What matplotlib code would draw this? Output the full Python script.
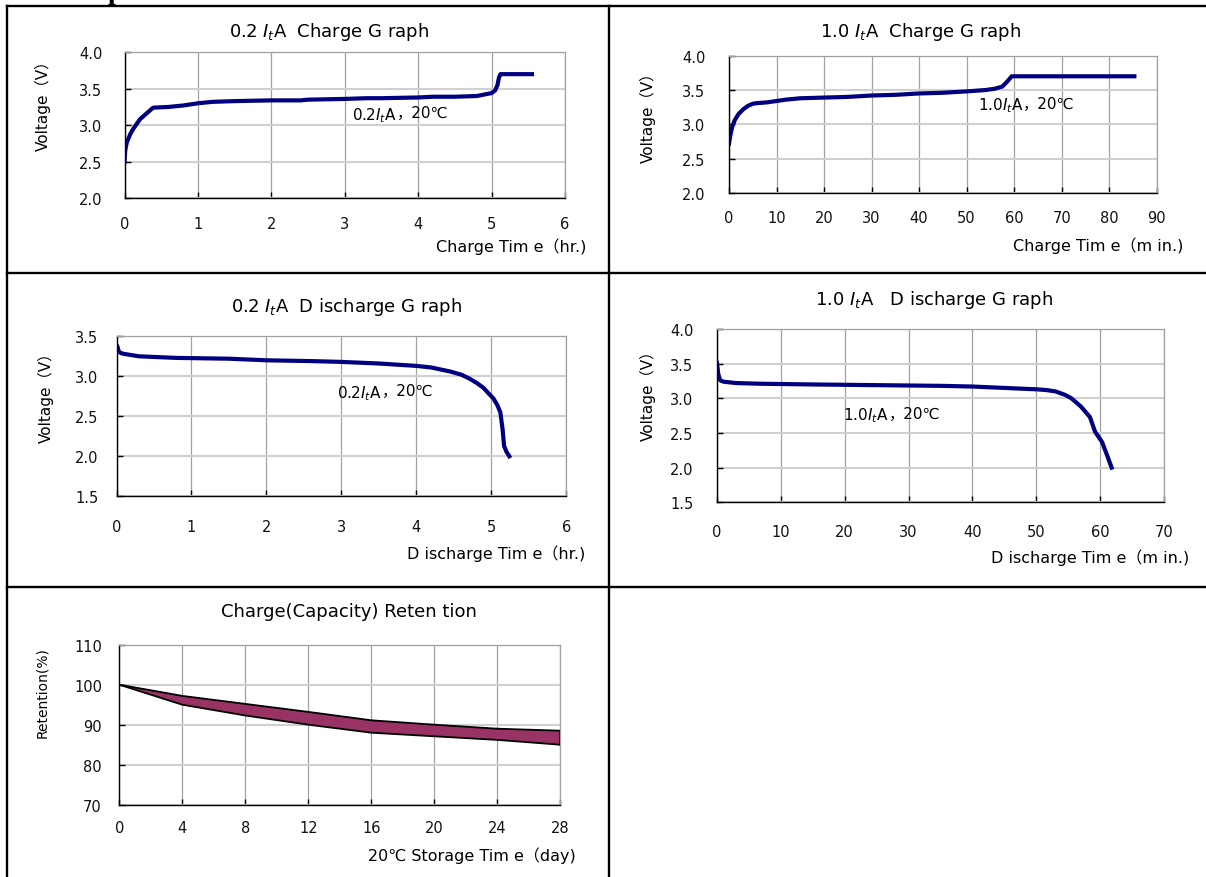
import matplotlib
matplotlib.use("Agg")
import matplotlib.pyplot as plt
from matplotlib.lines import Line2D
import numpy as np

plt.rcParams['font.family'] = ['DejaVu Sans', 'Noto Sans CJK JP']
plt.rcParams['mathtext.fontset'] = 'dejavusans'

# ---------------- data ----------------
ch02_t = [0, 0.01, 0.03, 0.08, 0.12, 0.21, 0.30, 0.39, 0.6, 0.8, 1.0, 1.2, 1.5, 2.0, 2.4,
          2.5, 3.0, 3.3, 3.5, 4.0, 4.2, 4.5, 4.8, 4.9, 5.0, 5.05, 5.08, 5.1, 5.12, 5.55]
ch02_v = [2.5, 2.65, 2.76, 2.88, 2.95, 3.08, 3.16, 3.24, 3.25, 3.27, 3.30, 3.32, 3.33, 3.34, 3.34,
          3.35, 3.36, 3.37, 3.37, 3.38, 3.39, 3.39, 3.40, 3.42, 3.44, 3.48, 3.55, 3.65, 3.70, 3.70]

ch10_t = [0, 0.3, 0.7, 1.2, 2, 3, 4, 5, 6, 8, 10, 12, 15, 20, 25, 30, 35, 40, 45, 50,
          54, 56, 57.5, 58.5, 59.5, 85.3]
ch10_v = [2.72, 2.85, 2.97, 3.06, 3.15, 3.22, 3.27, 3.30, 3.31, 3.32, 3.34, 3.36, 3.38, 3.39,
          3.40, 3.42, 3.43, 3.45, 3.46, 3.48, 3.50, 3.52, 3.55, 3.62, 3.70, 3.70]

dis02_t = [0, 0.01, 0.03, 0.06, 0.1, 0.3, 0.8, 1.5, 2.0, 2.6, 3.0, 3.5, 4.0, 4.2, 4.45, 4.6,
           4.71, 4.8, 4.89, 4.97, 5.03, 5.08, 5.12, 5.15, 5.17, 5.2, 5.24]
dis02_v = [3.38, 3.38, 3.31, 3.29, 3.28, 3.25, 3.23, 3.22, 3.20, 3.19, 3.18, 3.16, 3.13, 3.11,
           3.06, 3.02, 2.97, 2.92, 2.86, 2.78, 2.72, 2.64, 2.55, 2.34, 2.13, 2.06, 2.0]

dis10_t = [0, 0.2, 0.5, 1, 3, 7, 15, 25, 35, 40, 45, 50, 51.5, 53, 54.5, 55.5, 57, 58.4,
           59.2, 60.3, 61, 61.8]
dis10_v = [3.51, 3.35, 3.26, 3.24, 3.22, 3.21, 3.20, 3.19, 3.18, 3.17, 3.15, 3.13, 3.12, 3.10,
           3.05, 3.0, 2.88, 2.73, 2.52, 2.37, 2.2, 2.0]

ret_days = [0, 4, 8, 12, 16, 20, 24, 28]
ret_upper = [100, 97.2, 95.2, 93.2, 91.1, 90.0, 89.0, 88.5]
ret_lower = [100, 95.0, 92.3, 90.0, 88.0, 87.1, 86.2, 85.0]

titles = ["0.2 $I_t$A  Charge G raph", "1.0 $I_t$A  Charge G raph",
          "0.2 $I_t$A  D ischarge G raph", "1.0 $I_t$A   D ischarge G raph",
          "Charge(Capacity) Reten tion"]
xlabels = ["Charge Tim e（hr.)", "Charge Tim e（m in.)", "D ischarge Tim e（hr.)",
           "D ischarge Tim e（m in.)", "20℃ Storage Tim e（day)"]
ylabels = ["Voltage（V）", "Voltage（V）", "Voltage（V）", "Voltage（V）", "Retention(%)"]
note_heads = ["0.2$I_t$A", "1.0$I_t$A", "0.2$I_t$A", "1.0$I_t$A"]
note_tail = "，20℃"

# ---------------- layout ----------------
W, H = 1206, 878
fig = plt.figure(figsize=(W / 100, H / 100), dpi=100)
fig.patch.set_facecolor('white')


def fx(x):
    return x / W


def fy(y):
    return 1 - y / H


def add_axes(l, t, r, b):
    return fig.add_axes([fx(l), fy(b), fx(r - l), (b - t) / H])


LINE = '#000080'


def style(ax, xlim, xticks, ylim, yticks, yfmt, xpad, ypad):
    ax.set_xlim(*xlim)
    ax.set_ylim(*ylim)
    ax.set_xticks(xticks)
    ax.set_yticks(yticks)
    ax.set_yticklabels([yfmt.format(v) for v in yticks])
    ax.set_xticklabels([str(v) for v in xticks])
    ax.xaxis.grid(True, color='#a0a0a0', lw=0.9)
    ax.yaxis.grid(True, color='#d0d0d0', lw=1.5)
    ax.set_axisbelow(True)
    for s in ['top', 'right']:
        ax.spines[s].set_color('#a0a0a0')
        ax.spines[s].set_linewidth(0.9)
    for s in ['left', 'bottom']:
        ax.spines[s].set_color('black')
        ax.spines[s].set_linewidth(1.0)
    ax.tick_params(axis='both', direction='in', length=4.5, width=1.0, color='black',
                   labelsize=10.5, labelcolor='#111111')
    ax.tick_params(axis='x', pad=xpad)
    ax.tick_params(axis='y', pad=ypad)


NOTE_FS = 11


def note(ax, x, y, head):
    t1 = ax.text(x, y, head, fontsize=NOTE_FS, va='center', ha='left')
    ax.annotate(note_tail, xy=(1, 0.5), xycoords=t1, xytext=(0, 1.2),
                textcoords='offset points', fontsize=NOTE_FS, va='center', ha='left')


# Panel 1
ax1 = add_axes(124.5, 53.3, 565, 199)
ax1.plot(ch02_t, ch02_v, color=LINE, lw=3.0)
style(ax1, (0, 6), list(range(0, 7)), (2.0, 4.0), [2.0, 2.5, 3.0, 3.5, 4.0], "{:.1f}", 13, 16)
note(ax1, 3.1, 3.15, note_heads[0])

# Panel 2
ax2 = add_axes(729, 56.7, 1156.7, 194)
ax2.plot(ch10_t, ch10_v, color=LINE, lw=3.0)
style(ax2, (0, 90), list(range(0, 91, 10)), (2.0, 4.0), [2.0, 2.5, 3.0, 3.5, 4.0], "{:.1f}", 12.5, 17)
note(ax2, 52.3, 3.28, note_heads[1])

# Panel 3
ax3 = add_axes(116.5, 337.3, 566.3, 497.3)
ax3.plot(dis02_t, dis02_v, color=LINE, lw=3.0)
style(ax3, (0, 6), list(range(0, 7)), (1.5, 3.5), [1.5, 2.0, 2.5, 3.0, 3.5], "{:.1f}", 16, 13)
note(ax3, 2.94, 2.80, note_heads[2])

# Panel 4
ax4 = add_axes(717, 330, 1164, 503.3)
ax4.plot(dis10_t, dis10_v, color=LINE, lw=3.0)
style(ax4, (0, 70), list(range(0, 71, 10)), (1.5, 4.0), [1.5, 2.0, 2.5, 3.0, 3.5, 4.0], "{:.1f}", 15.5, 17)
note(ax4, 19.7, 2.76, note_heads[3])

# Panel 5
ax5 = add_axes(119.3, 645.7, 560.3, 805.7)
ax5.fill_between(ret_days, ret_lower, ret_upper, facecolor='#993366', edgecolor='none')
ax5.plot(ret_days, ret_upper, color='black', lw=1.3)
ax5.plot(ret_days, ret_lower, color='black', lw=1.3)
ax5.plot([ret_days[-1], ret_days[-1]], [ret_lower[-1], ret_upper[-1]], color='black', lw=1.3)
style(ax5, (0, 28), list(range(0, 29, 4)), (70, 110), [70, 80, 90, 100, 110], "{:d}", 11, 12.5)

# titles, axis labels (positioned in pixels)
title_pos = [(329, 32.3), (920, 32.3), (347, 306.7), (934, 300), (349, 612.3)]
for (x, y), t in zip(title_pos, titles):
    fig.text(fx(x), fy(y), t, fontsize=13, ha='center', va='center')

xlabel_pos = [(586, 246.7), (1183, 245.7), (585, 553.3), (1189, 557.7), (576, 856)]
for (x, y), t in zip(xlabel_pos, xlabels):
    fig.text(fx(x), fy(y), t, fontsize=11.5, ha='right', va='center')

ylabel_pos = [(43, 101.7), (648, 114), (46, 394), (648, 392), (42, 693)]
ysizes = [11, 11, 11, 11, 10]
for (x, y), t, s in zip(ylabel_pos, ylabels, ysizes):
    fig.text(fx(x), fy(y), t, fontsize=s, ha='center', va='center', rotation=90)

# table frame lines
frame = [((7, 7), (7, H)), ((7, W), (7, 7)), ((7, W), (274, 274)), ((7, W), (588, 588)),
         ((608.5, 608.5), (7, H))]
for xs, ys in frame:
    fig.add_artist(Line2D([fx(xs[0]), fx(xs[1])], [fy(ys[0]), fy(ys[1])],
                          transform=fig.transFigure, color='black', lw=1.7))

# cut-off heading letter at the very top (only its descender shows)
fig.text(fx(108), fy(-1.5), "p", fontsize=20, fontweight='bold',
         family=['Liberation Serif', 'DejaVu Serif'], ha='left', va='baseline')

fig.savefig("out.png", dpi=100, facecolor='white')
